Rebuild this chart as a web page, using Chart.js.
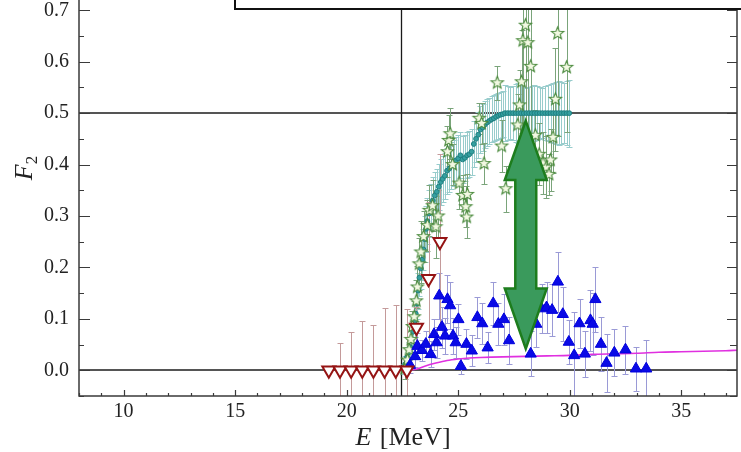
<!DOCTYPE html>
<html><head><meta charset="utf-8">
<script src="https://cdn.jsdelivr.net/npm/chart.js@4.4.1/dist/chart.umd.min.js"></script>
<style>html,body{margin:0;padding:0;background:#fff;overflow:hidden}canvas{display:block}</style>
</head><body><canvas id="c" width="741" height="452"></canvas>
<script>
// ---- axis ticks ----
const xTicks = [10, 15, 20, 25, 30, 35];
const yTicks = [0, 0.1, 0.2, 0.3, 0.4, 0.5, 0.6, 0.7];
const xRange = [8, 37.5];
const yRange = [-0.05, 0.72];
const hLines = [0, 0.5];
const vLines = [22.45];

// ---- red open inverted triangles ----
const redX = [19.2, 19.7, 20.2, 20.7, 21.2, 21.7, 22.2, 22.7, 23.13, 23.67, 24.18];
const redY = [0, 0, 0, 0, 0, 0, 0, 0, 0.083, 0.178, 0.25];
const redErr = [0, 0.054, 0.075, 0.096, 0.089, 0.122, 0.126, 0.119, 0.04, 0.15, 0.17];

// ---- blue filled triangles ----
const blueX = [22.84,23.07,23.17,23.37,23.55,23.77,23.92,24.03,24.15,24.27,24.41,24.52,24.64,24.77,24.89,25.01,25.12,25.37,25.61,25.86,26.08,26.32,26.57,26.80,27.05,27.28,28.25,28.50,28.74,28.96,29.21,29.47,29.69,29.96,30.20,30.44,30.68,30.93,31.03,31.15,31.40,31.65,32.00,32.50,32.97,33.43];
const blueY = [0.010,0.027,0.047,0.039,0.051,0.031,0.070,0.054,0.145,0.084,0.067,0.138,0.126,0.067,0.054,0.099,0.008,0.051,0.038,0.103,0.091,0.044,0.130,0.090,0.099,0.058,0.032,0.090,0.120,0.122,0.117,0.172,0.109,0.055,0.029,0.091,0.032,0.097,0.090,0.138,0.051,0.014,0.034,0.040,0.003,0.003];
const blueErr = [0.015,0.02,0.025,0.02,0.025,0.025,0.03,0.03,0.045,0.04,0.035,0.047,0.045,0.035,0.03,0.03,0.015,0.03,0.03,0.04,0.04,0.03,0.042,0.04,0.05,0.045,0.044,0.045,0.047,0.05,0.05,0.058,0.052,0.042,0.085,0.047,0.045,0.06,0.06,0.063,0.052,0.056,0.046,0.047,0.043,0.056];

// ---- green open stars ----
const starX = [22.6,22.73,22.8,22.88,22.95,23.03,23.12,23.17,23.25,23.33,23.45,23.62,23.7,23.85,24.0,24.1,24.52,24.57,24.64,24.75,25.04,25.2,25.34,25.38,25.41,25.94,26.05,26.16,26.75,26.95,27.13,27.67,27.75,27.84,27.9,28.02,28.12,28.25,28.46,28.63,28.8,28.95,29.07,29.14,29.25,29.36,29.46,29.86];
const starY = [0.003,0.02,0.04,0.06,0.085,0.104,0.135,0.162,0.207,0.23,0.26,0.282,0.311,0.32,0.279,0.30,0.425,0.447,0.46,0.40,0.364,0.34,0.318,0.298,0.342,0.49,0.48,0.402,0.559,0.436,0.353,0.477,0.516,0.561,0.641,0.671,0.637,0.591,0.457,0.42,0.403,0.395,0.381,0.409,0.453,0.527,0.655,0.589];
const starErr = [0.02,0.02,0.02,0.025,0.03,0.03,0.04,0.04,0.05,0.06,0.05,0.05,0.05,0.05,0.06,0.05,0.05,0.05,0.05,0.04,0.05,0.04,0.04,0.04,0.04,0.03,0.04,0.04,0.033,0.05,0.045,0.06,0.068,0.1,0.2,0.22,0.18,0.14,0.05,0.06,0.06,0.06,0.04,0.06,0.07,0.1,0.2,0.125];

// ---- teal dense series ----
const tealX = [22.55,22.62,22.7,22.78,22.85,22.92,22.98,23.05,23.1,23.15,23.2,23.26,23.32,23.38,23.44,23.5,23.56,23.62,23.7,23.78,23.86,23.95,24.04,24.13,24.22,24.3,24.4,24.5,24.6,24.7,24.8,24.9,25.0,25.1,25.2,25.3,25.4,25.5,25.6,25.7,25.8,25.9,26.0,26.1,26.2,26.3,26.4,26.5,26.6,26.7,26.8,26.9,27.0,
  27.1,27.22,27.34,27.46,27.58,27.7,27.82,27.94,28.06,28.18,28.3,28.42,28.54,28.66,28.78,28.9,29.02,29.14,29.26,29.38,29.5,29.62,29.74,29.86,29.98];
const tealY = [0.002,0.012,0.025,0.035,0.045,0.06,0.075,0.095,0.11,0.13,0.155,0.18,0.198,0.215,0.235,0.255,0.275,0.29,0.305,0.318,0.33,0.34,0.347,0.357,0.366,0.372,0.378,0.388,0.392,0.398,0.403,0.408,0.412,0.418,0.41,0.413,0.418,0.42,0.425,0.44,0.45,0.458,0.468,0.472,0.478,0.482,0.485,0.488,0.49,0.493,0.495,0.497,0.498,
  0.5,0.5,0.5,0.5,0.5,0.5,0.5,0.5,0.5,0.5,0.5,0.5,0.5,0.5,0.5,0.5,0.5,0.5,0.5,0.5,0.5,0.5,0.5,0.5,0.5];
const tealErr = [0.01,0.015,0.02,0.02,0.02,0.025,0.025,0.03,0.03,0.03,0.035,0.035,0.04,0.04,0.04,0.045,0.045,0.045,0.045,0.045,0.045,0.045,0.045,0.045,0.045,0.045,0.045,0.045,0.045,0.045,0.045,0.045,0.045,0.045,0.045,0.045,0.045,0.045,0.045,0.045,0.045,0.045,0.045,0.045,0.045,0.045,0.045,0.045,0.045,0.045,0.045,0.045,0.045,
  0.055,0.052,0.05,0.053,0.056,0.058,0.055,0.05,0.048,0.05,0.052,0.055,0.053,0.05,0.049,0.052,0.054,0.056,0.058,0.06,0.062,0.06,0.058,0.062,0.065];

// ---- magenta curve ----
const curveX = [22.5,23.1,23.5,24.0,24.5,25.0,25.5,26.0,27.0,28.0,29.0,30.0,31.0,32.0,33.0,34.0,35.0,36.0,37.0,37.5];
const curveY = [0,0.002,0.008,0.014,0.019,0.022,0.024,0.025,0.026,0.027,0.028,0.029,0.031,0.032,0.033,0.035,0.036,0.037,0.038,0.039];

// ---- double arrow (data units) ----
const arrowCenterX = 28.03;
const arrowLevels = [0.042, 0.159, 0.37, 0.485]; // bottom tip, bottom head base, top head base, top tip
const arrowHalfWidths = [0.94, 0.47]; // head, shaft

const pts = (xs, ys) => xs.map((x, i) => ({x, y: ys[i]}));
const FONT = '"Liberation Serif", "Times New Roman", serif';

function makeStar(R, r, fill, stroke) {
  const s = Math.ceil(R * 2 + 4);
  const c = document.createElement('canvas'); c.width = c.height = s;
  const g = c.getContext('2d');
  g.beginPath();
  for (let i = 0; i < 10; i++) {
    const a = -Math.PI / 2 + i * Math.PI / 5;
    const rad = i % 2 ? r : R;
    g.lineTo(s / 2 + rad * Math.cos(a), s / 2 + rad * Math.sin(a));
  }
  g.closePath(); g.fillStyle = fill; g.fill();
  g.lineWidth = 1.1; g.strokeStyle = stroke; g.stroke();
  return c;
}
const starImg = makeStar(6.5, 2.8, '#f3f9e3', '#4a8a3c');

const refLines = {
  id: 'refLines',
  beforeDatasetsDraw(chart) {
    const {ctx, chartArea: a, scales: {x, y}} = chart;
    ctx.save();
    ctx.strokeStyle = '#555'; ctx.lineWidth = 2;
    hLines.forEach(v => {
      const py = Math.round(y.getPixelForValue(v));
      ctx.beginPath(); ctx.moveTo(a.left, py); ctx.lineTo(a.right, py); ctx.stroke();
    });
    ctx.strokeStyle = '#1a1a1a'; ctx.lineWidth = 1.3;
    vLines.forEach(v => {
      const px = Math.round(x.getPixelForValue(v)) + 0.5;
      ctx.beginPath(); ctx.moveTo(px, a.top); ctx.lineTo(px, a.bottom); ctx.stroke();
    });
    // error bars
    ctx.beginPath(); ctx.rect(a.left, a.top, a.right - a.left, a.bottom - a.top); ctx.clip();
    chart.data.datasets.slice().reverse().forEach(ds => {
      if (!ds.err) return;
      ctx.strokeStyle = ds.errColor; ctx.lineWidth = 1;
      ds.data.forEach((p, i) => {
        const e = ds.err[i]; if (!e) return;
        const px = Math.round(x.getPixelForValue(p.x)) + 0.5;
        const y1 = Math.round(y.getPixelForValue(p.y + e)) + 0.5;
        const y2 = Math.round(y.getPixelForValue(p.y - e)) + 0.5;
        ctx.beginPath();
        ctx.moveTo(px, y1); ctx.lineTo(px, y2);
        ctx.moveTo(px - 3, y1); ctx.lineTo(px + 3, y1);
        ctx.moveTo(px - 3, y2); ctx.lineTo(px + 3, y2);
        ctx.stroke();
      });
    });
    ctx.restore();
  }
};

const overlay = {
  id: 'overlay',
  afterDatasetsDraw(chart) {
    const {ctx, chartArea: a, scales: {x, y}} = chart;
    ctx.save();
    // arrow
    const cx = arrowCenterX;
    const [hw, sw] = arrowHalfWidths;
    const [yb, yhb, yht, yt] = arrowLevels;
    const P = (vx, vy) => [x.getPixelForValue(vx), y.getPixelForValue(vy)];
    const poly = [P(cx, yt), P(cx + hw, yht), P(cx + sw, yht), P(cx + sw, yhb), P(cx + hw, yhb), P(cx, yb),
                  P(cx - hw, yhb), P(cx - sw, yhb), P(cx - sw, yht), P(cx - hw, yht)];
    ctx.beginPath();
    poly.forEach(([px, py], i) => i ? ctx.lineTo(px, py) : ctx.moveTo(px, py));
    ctx.closePath();
    ctx.fillStyle = '#3a9a5c'; ctx.fill();
    ctx.lineJoin = 'miter'; ctx.strokeStyle = '#1d7d1d'; ctx.lineWidth = 2.5; ctx.stroke();

    // axes frame
    ctx.strokeStyle = '#3a3a3a'; ctx.lineWidth = 1.5;
    ctx.beginPath();
    ctx.moveTo(a.left, a.top); ctx.lineTo(a.left, a.bottom); ctx.lineTo(a.right, a.bottom); ctx.lineTo(a.right, a.top);
    ctx.stroke();
    ctx.lineWidth = 1.2;
    ctx.beginPath();
    for (let v = 8; v <= 37; v += 1) {
      const px = Math.round(x.getPixelForValue(v)) + 0.5;
      const len = v % 5 === 0 ? 6 : 3;
      ctx.moveTo(px, a.bottom); ctx.lineTo(px, a.bottom - len);
    }
    for (let k = -1; k <= 14; k++) {
      const v = k * 0.05;
      const py = Math.round(y.getPixelForValue(v)) + 0.5;
      const major = k % 2 === 0;
      ctx.moveTo(a.left, py); ctx.lineTo(a.left + (major ? 11 : 5), py);
      ctx.moveTo(a.right, py); ctx.lineTo(a.right - (major ? 10 : 7), py);
    }
    ctx.stroke();
    ctx.restore();
  },
  afterDraw(chart) {
    const {ctx} = chart;
    ctx.save();
    // legend frame at top (content outside view)
    ctx.fillStyle = '#fff';
    ctx.fillRect(235, -10, 520, 19);
    ctx.strokeStyle = '#111'; ctx.lineWidth = 2;
    ctx.strokeRect(235, -10, 520, 19);
    // x title
    ctx.fillStyle = '#222';
    ctx.textBaseline = 'alphabetic'; ctx.textAlign = 'left';
    ctx.font = 'italic 26px ' + FONT;
    const wE = ctx.measureText('E').width;
    ctx.font = '26px ' + FONT;
    const wR = ctx.measureText(' [MeV]').width;
    const cxT = 402;
    let sx = cxT - (wE + wR) / 2;
    ctx.font = 'italic 26px ' + FONT; ctx.fillText('E', sx, 445);
    ctx.font = '26px ' + FONT; ctx.fillText(' [MeV]', sx + wE + 2, 445);
    // y title
    ctx.translate(32, 168); ctx.rotate(-Math.PI / 2);
    ctx.font = 'italic 26px ' + FONT;
    const wF = ctx.measureText('F').width;
    ctx.font = '17px ' + FONT;
    const w2 = ctx.measureText('2').width;
    const st = -(wF + w2) / 2;
    ctx.font = 'italic 26px ' + FONT; ctx.fillText('F', st, 0);
    ctx.font = '17px ' + FONT; ctx.fillText('2', st + wF, 5);
    ctx.restore();
  }
};

new Chart(document.getElementById('c'), {
  type: 'scatter',
  data: {
    datasets: [
      { label: 'red', data: pts(redX, redY), err: redErr, errColor: '#c49a9a',
        pointStyle: 'triangle', rotation: 180, pointRadius: 7.5, borderWidth: 2,
        borderColor: '#951414', backgroundColor: '#ffffff' },
      { label: 'blue', data: pts(blueX, blueY), err: blueErr, errColor: '#9a9ad6',
        pointStyle: 'triangle', pointRadius: 6.5, borderWidth: 1,
        borderColor: '#0000dd', backgroundColor: '#0a0ae6' },
      { label: 'curve', type: 'line', data: pts(curveX, curveY), showLine: true, pointRadius: 0,
        borderColor: '#e030e0', borderWidth: 1.6, tension: 0.3, fill: false },
      { label: 'stars', data: pts(starX, starY), err: starErr, errColor: '#7aa47a',
        pointStyle: starImg, pointRadius: 6 },
      { label: 'teal', data: pts(tealX, tealY), err: tealErr, errColor: '#98cccc',
        pointStyle: 'circle', pointRadius: 2.4, borderWidth: 1,
        borderColor: '#1f7f80', backgroundColor: '#35a0a0' }
    ]
  },
  options: {
    responsive: false, animation: false, devicePixelRatio: 1,
    layout: { autoPadding: false, padding: { left: 0, right: 4, top: 0, bottom: 0 } },
    plugins: { legend: { display: false }, tooltip: { enabled: false } },
    scales: {
      x: {
        type: 'linear', min: xRange[0], max: xRange[1],
        grid: { display: false, drawTicks: false }, border: { display: false },
        afterBuildTicks: s => { s.ticks = xTicks.map(v => ({value: v})); },
        afterFit: s => { s.height = 56; s.paddingLeft = 0; s.paddingRight = 0; },
        ticks: { autoSkip: false, maxRotation: 0, padding: 4, color: '#222',
          font: { family: FONT, size: 20 }, callback: v => String(v) }
      },
      y: {
        type: 'linear', min: yRange[0], max: yRange[1],
        grid: { display: false, drawTicks: false }, border: { display: false },
        afterBuildTicks: s => { s.ticks = yTicks.map(v => ({value: v})); },
        afterFit: s => { s.width = 79; s.paddingTop = 0; s.paddingBottom = 0; },
        ticks: { autoSkip: false, padding: 10, color: '#222',
          font: { family: FONT, size: 20 }, callback: v => Number(v).toFixed(1) }
      }
    }
  },
  plugins: [refLines, overlay]
});
</script>
</body></html>
